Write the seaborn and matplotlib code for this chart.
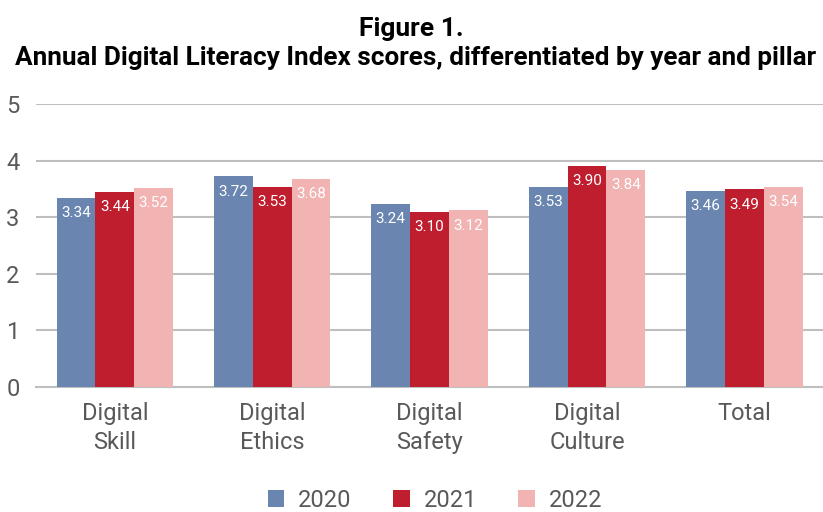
import matplotlib.pyplot as plt
import seaborn as sns
import pandas as pd

categories = ["Digital\nSkill", "Digital\nEthics", "Digital\nSafety", "Digital\nCulture", "Total"]
years = ["2020", "2021", "2022"]
scores_2020 = [3.34, 3.72, 3.24, 3.53, 3.46]
scores_2021 = [3.44, 3.53, 3.10, 3.90, 3.49]
scores_2022 = [3.52, 3.68, 3.12, 3.84, 3.54]
palette = ["#6A86B0", "#BE1E2D", "#F2B3B3"]

rows = []
for yr, vals in zip(years, [scores_2020, scores_2021, scores_2022]):
    for cat, v in zip(categories, vals):
        rows.append({"pillar": cat, "year": yr, "score": v})
df = pd.DataFrame(rows)

sns.set_theme(style="white")
plt.rcParams['font.family'] = ['Roboto', 'DejaVu Sans']
text_col = "#595959"

fig = plt.figure(figsize=(8.23, 5.12), dpi=100)
ax = fig.add_axes([0.044, 0.244, 0.956, 0.553])

sns.barplot(data=df, x="pillar", y="score", hue="year", palette=palette,
            width=0.74, saturation=1, ax=ax, zorder=3, linewidth=0)

for cont in ax.containers:
    labels = [f"{b.get_height():.2f}" for b in cont]
    ax.bar_label(cont, labels=labels, padding=-16, color="white", fontsize=11)

ax.set_ylim(0, 5)
ax.set_xlim(-0.5, 4.5)
ax.set_yticks(range(6))
ax.yaxis.grid(True, color="#BFBFBF", linewidth=1.5, zorder=0)
ax.set_axisbelow(True)
for s in ["top", "right", "left"]:
    ax.spines[s].set_visible(False)
ax.spines["bottom"].set_color("#BFBFBF")
ax.spines["bottom"].set_linewidth(1.5)
ax.set_xlabel("")
ax.set_ylabel("")
ax.tick_params(axis="x", length=0, labelsize=17, colors=text_col, pad=11)
ax.tick_params(axis="y", length=0, labelsize=17, colors=text_col, pad=12)
for t in ax.get_xticklabels():
    t.set_linespacing(1.3)

ax.legend(loc="center", bbox_to_anchor=(0.507, -0.40), ncol=3, frameon=False,
          fontsize=17, labelcolor=text_col, handlelength=0.7, handleheight=0.7,
          columnspacing=1.75, handletextpad=0.6)

fig.text(0.5, 0.930, "Figure 1.", ha="center", va="baseline", fontsize=19, fontweight="bold", color="black")
fig.text(0.505, 0.873, "Annual Digital Literacy Index scores, differentiated by year and pillar",
         ha="center", va="baseline", fontsize=18.8, fontweight="bold", color="black")

fig.savefig("out.png", dpi=100)
